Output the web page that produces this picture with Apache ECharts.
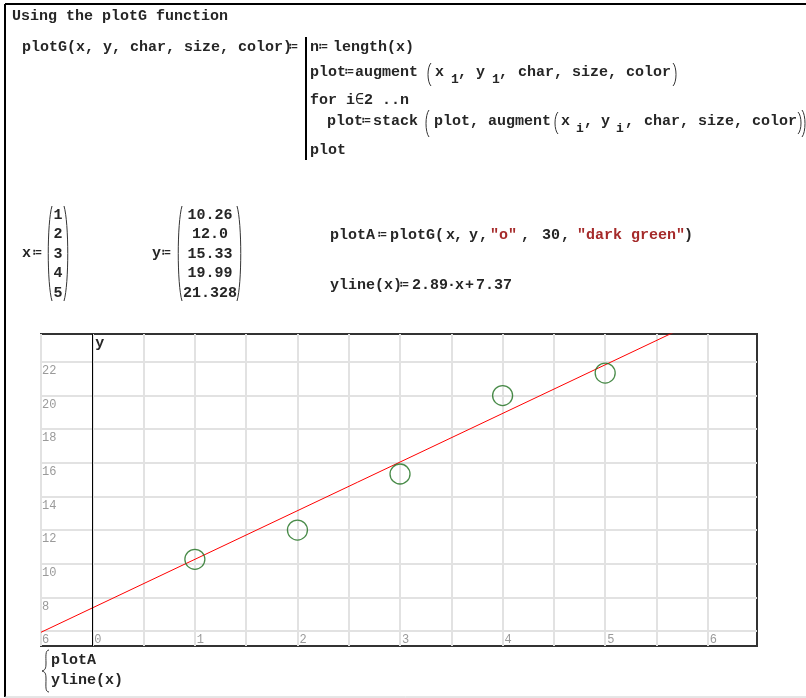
<!DOCTYPE html>
<html><head><meta charset="utf-8">
<script src="https://cdn.jsdelivr.net/npm/echarts@6/dist/echarts.min.js"></script>
<style>html,body{margin:0;padding:0;background:#fff}#c{width:806px;height:698px}</style>
</head><body><div id="c"></div><script>
// ---- data ----
const xValues = [1, 2, 3, 4, 5];
const yValues = [10.26, 12.0, 15.33, 19.99, 21.328];
const yValueText = ['10.26', '12.0', '15.33', '19.99', '21.328'];
// yline(x) = 2.89·x + 7.37, end points of the drawn red line
const lineX = [-0.5, 6.5];
const lineY = [5.925, 26.155];
const xGridValues = [-0.5, 0, 0.5, 1, 1.5, 2, 2.5, 3, 3.5, 4, 4.5, 5, 5.5, 6];
const xTickLabels = [0, 1, 2, 3, 4, 5, 6];
const yGridValues = [6, 8, 10, 12, 14, 16, 18, 20, 22];
const yTickLabels = [6, 8, 10, 12, 14, 16, 18, 20, 22];

const chart = echarts.init(document.getElementById('c'), null, {renderer: 'canvas'});
const labelStyle = {color: '#9a9a9a', fontFamily: '"Liberation Mono", monospace', fontSize: 12};
const splitStyle = {show: true, lineStyle: {color: '#e2e2e2', width: 2}};
chart.setOption({
  animation: false,
  grid: {left: 41, top: 334, width: 716, height: 312, show: true, borderColor: '#333', borderWidth: 2, backgroundColor: '#fff'},
  xAxis: {
    type: 'value', min: -0.5, max: 6.48,
    axisLine: {show: false},
    axisTick: {show: false, customValues: xGridValues},
    splitLine: splitStyle,
    axisLabel: Object.assign({inside: true, customValues: xTickLabels, align: 'left', verticalAlign: 'bottom', margin: 0, padding: [0, 0, 0, 2]}, labelStyle)
  },
  yAxis: {
    type: 'value', min: 5.11, max: 23.65,
    axisLine: {show: false},
    axisTick: {show: false, customValues: yGridValues},
    splitLine: splitStyle,
    axisLabel: Object.assign({inside: true, customValues: yTickLabels, align: 'left', verticalAlign: 'top', margin: 1, padding: [3, 0, 0, 0]}, labelStyle)
  },
  series: [
    {
      type: 'line', data: lineX.map((x, i) => [x, lineY[i]]), symbol: 'none',
      lineStyle: {color: '#ff0000', width: 1}, z: 3, silent: true,
      markLine: {silent: true, symbol: 'none', label: {show: false}, lineStyle: {color: '#000', width: 1, type: 'solid'}, data: [{xAxis: 0}]}
    },
    {
      type: 'scatter', data: xValues.map((x, i) => [x, yValues[i]]), symbol: 'circle', symbolSize: 20,
      itemStyle: {color: 'rgba(0,0,0,0)', borderColor: '#1c6e1c', borderWidth: 1.3}, z: 4
    }
  ]
});

// ---- worksheet text ----
const F = '"Liberation Mono","DejaVu Sans Mono",monospace';
const INK = '#262626', RED = '#a52a2a';
function T(text, x, y, o) {
  o = o || {};
  return {type: 'text', x: x, y: y, silent: true, z: 10,
    style: {text: text, font: (o.w || 'bold') + ' ' + (o.s || 15) + 'px ' + F, fill: o.c || INK, align: o.a || 'left', verticalAlign: 'middle'}};
}
function L(x1, y1, x2, y2, c, w) {
  return {type: 'line', silent: true, z: 10, shape: {x1: x1, y1: y1, x2: x2, y2: y2}, style: {stroke: c, lineWidth: w}};
}
function paren(x, y1, y2, dir, bulge) { // dir -1 = "(" , +1 = ")"
  const b = (bulge || 4) * dir, d = (y2 - y1) * 0.18;
  return {type: 'bezierCurve', silent: true, z: 10,
    shape: {x1: x, y1: y1, x2: x, y2: y2, cpx1: x + b, cpy1: y1 + d, cpx2: x + b, cpy2: y2 - d},
    style: {stroke: '#333', lineWidth: 1, fill: null}};
}
function bez(x1, y1, c1x, c1y, c2x, c2y, x2, y2) {
  return {type: 'bezierCurve', silent: true, z: 10,
    shape: {x1: x1, y1: y1, x2: x2, y2: y2, cpx1: c1x, cpy1: c1y, cpx2: c2x, cpy2: c2y},
    style: {stroke: '#333', lineWidth: 1, fill: null}};
}

const els = [];
// page frame
els.push(L(5, 4, 806, 4, '#000', 2));
els.push(L(5, 4, 5, 697, '#000', 2));
els.push(L(5, 697, 806, 697, '#cccccc', 1));
// heading
els.push(T('Using the plotG function', 12, 16));
// program definition
els.push(T('plotG(x, y, char, size, color)', 22, 47));
els.push(T('≔', 289, 47, {w: 'normal'}));
els.push(L(306, 37, 306, 160, '#000', 2));
els.push(T('n', 310, 47), T('≔', 319, 47, {w: 'normal'}), T('length(x)', 333, 47));
els.push(T('plot', 310, 72), T('≔', 345, 72, {w: 'normal'}), T('augment', 355, 72));
els.push(paren(431, 63, 86, -1));
els.push(T('x', 435, 72), T('1', 451, 80, {s: 13}), T(',', 458, 72));
els.push(T('y', 476, 72), T('1', 492, 80, {s: 13}), T(',', 499, 72));
els.push(T('char, size, color', 518, 72));
els.push(paren(673, 63, 86, 1));
els.push(T('for i', 310, 100), T('∈', 355, 100, {w: 'normal'}), T('2 ..n', 364, 100));
els.push(T('plot', 327, 121), T('≔', 362, 121, {w: 'normal'}), T('stack', 373, 121));
els.push(paren(429, 110, 137, -1));
els.push(T('plot, augment', 434, 121));
els.push(paren(558, 112, 134, -1));
els.push(T('x', 561, 121), T('i', 576, 129, {s: 13}), T(',', 584, 121));
els.push(T('y', 601, 121), T('i', 616, 129, {s: 13}), T(',', 625, 121));
els.push(T('char, size, color', 644, 121));
els.push(paren(798, 112, 134, 1), paren(802, 110, 137, 1));
els.push(T('plot', 310, 150));
// x vector
els.push(T('x', 22, 253), T('≔', 33, 253, {w: 'normal'}));
els.push(paren(52, 206, 301, -1, 5), paren(64, 206, 301, 1, 5));
xValues.forEach((v, i) => els.push(T(String(v), 58, 215 + i * 19.5, {a: 'center'})));
// y vector
els.push(T('y', 152, 253), T('≔', 162, 253, {w: 'normal'}));
els.push(paren(182, 206, 301, -1, 5), paren(237, 206, 301, 1, 5));
yValueText.forEach((v, i) => els.push(T(v, 210, 215 + i * 19.5, {a: 'center'})));
// plotA definition
els.push(T('plotA', 330, 235), T('≔', 378, 235, {w: 'normal'}), T('plotG(', 390, 235));
els.push(T('x', 446, 235), T(',', 454, 235), T('y', 469, 235), T(',', 479, 235));
els.push(T('"o"', 490, 235, {c: RED}), T(',', 521, 235), T('30', 542, 235), T(',', 561, 235));
els.push(T('"dark green"', 577, 235, {c: RED}), T(')', 684, 235));
// yline definition
els.push(T('yline(x)', 330, 285), T('≔', 400, 285, {w: 'normal'}), T('2.89', 412, 285), T('·', 447, 285));
els.push(T('x', 455, 285), T('+', 465, 285), T('7.37', 476, 285));
// legend below plot
els.push(bez(49, 650, 45, 650, 46, 657, 46, 663), bez(46, 663, 46, 669, 45, 670, 42, 671));
els.push(bez(42, 671, 45, 672, 46, 673, 46, 679), bez(46, 679, 46, 686, 45, 692, 49, 692));
els.push(T('plotA', 51, 660), T('yline(x)', 51, 680));
// axis name "y" at the top of the x = 0 line
const p = chart.convertToPixel({gridIndex: 0}, [0, 23.65]);
els.push({type: 'text', x: p[0] + 3, y: p[1] + 2, silent: true, z: 10,
  style: {text: 'y', font: 'bold 15px ' + F, fill: INK, align: 'left', verticalAlign: 'top'}});

chart.setOption({graphic: {elements: els}});
</script></body></html>
